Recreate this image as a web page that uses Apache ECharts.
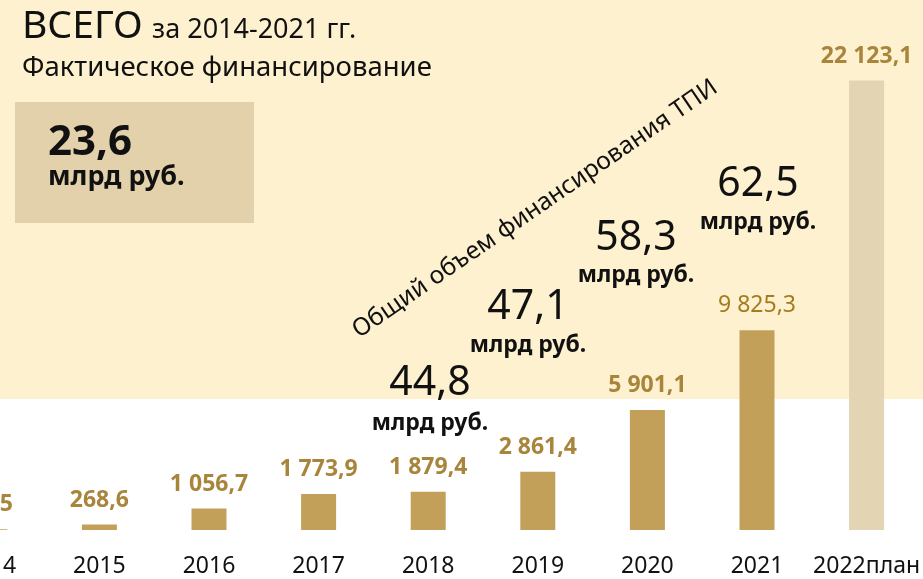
<!DOCTYPE html>
<html>
<head>
<meta charset="utf-8">
<script src="https://cdn.jsdelivr.net/npm/echarts@6/dist/echarts.min.js"></script>
<style>
  html, body { margin: 0; padding: 0; background: #fff; overflow: hidden; }
  /* первая категория (2014) срезана слева, как на слайде */
  #chart { position: absolute; left: -65px; top: 0; width: 988px; height: 579px; }
</style>
</head>
<body>
<div id="chart"></div>
<script>
// годы и фактическое финансирование, млн руб.
var years = ['2014', '2015', '2016', '2017', '2018', '2019', '2020', '2021', '2022план']
var funding = [42.5, 268.6, 1056.7, 1773.9, 1879.4, 2861.4, 5901.1, 9825.3, 22123.1]
var fundingLabels = ['42,5', '268,6', '1 056,7', '1 773,9', '1 879,4', '2 861,4', '5 901,1', '9 825,3', '22 123,1']
// общий объем финансирования ТПИ, млрд руб.
var totals = ['44,8', '47,1', '58,3', '62,5']
var totalPos = [[430, 383, 423], [528, 307, 345], [636, 238, 275], [758, 184, 222]]

var gold = '#c3a05a'
var planColor = '#e3d4b3'
var labelGold = '#a8853b'
var font = 'Noto Sans'
var dx = 65 // сдвиг холста влево

var chart = echarts.init(document.getElementById('chart'))

var barData = funding.map(function (v, i) {
  var isPlan = i === funding.length - 1
  var item = {
    value: v,
    itemStyle: { color: isPlan ? planColor : gold },
    label: {
      show: true,
      position: 'top',
      distance: 13,
      formatter: fundingLabels[i],
      fontFamily: font,
      fontSize: 23,
      fontWeight: 'bold',
      color: labelGold
    }
  }
  if (i === 7) {
    item.label.fontWeight = 'normal'
    item.label.color = '#a57b20'
  }
  return item
})

var graphics = [
  {
    type: 'rect',
    z: -100,
    silent: true,
    shape: { x: 0, y: 0, width: 988, height: 399 },
    style: { fill: '#fef1cf' }
  },
  {
    type: 'rect',
    z: -90,
    silent: true,
    shape: { x: dx + 15, y: 102, width: 239, height: 121 },
    style: { fill: '#e2d1aa' }
  },
  {
    type: 'text', left: dx + 22, top: 7,
    style: { text: 'ВСЕГО', font: '39px "Noto Sans"', fill: '#111' }
  },
  {
    type: 'text', left: dx + 152, top: 17,
    style: { text: 'за 2014-2021 гг.', font: '27px "Noto Sans"', fill: '#111' }
  },
  {
    type: 'text', left: dx + 22, top: 54,
    style: { text: 'Фактическое финансирование', font: '27.5px "Noto Sans"', fill: '#111' }
  },
  {
    type: 'text', left: dx + 48, top: 122,
    style: { text: '23,6', font: 'bold 42px "Noto Sans"', fill: '#111' }
  },
  {
    type: 'text', left: dx + 48, top: 164,
    style: { text: 'млрд руб.', font: 'bold 27px "Noto Sans"', fill: '#111' }
  },
  {
    type: 'text',
    x: dx + 535, y: 209,
    rotation: 34.5 * Math.PI / 180,
    style: {
      text: 'Общий объем финансирования ТПИ',
      font: '24.5px "Noto Sans"',
      fill: '#111',
      align: 'center',
      verticalAlign: 'middle'
    }
  }
]

totals.forEach(function (t, i) {
  var p = totalPos[i]
  graphics.push({
    type: 'text', x: dx + p[0], y: p[1],
    style: { text: t, font: '41px "Noto Sans"', fill: '#111', align: 'center', verticalAlign: 'middle' }
  })
  graphics.push({
    type: 'text', x: dx + p[0], y: p[2],
    style: { text: 'млрд руб.', font: 'bold 23px "Noto Sans"', fill: '#111', align: 'center', verticalAlign: 'middle' }
  })
})

var option = {
  backgroundColor: '#ffffff',
  animation: false,
  grid: {
    left: 0,
    right: 0,
    top: 22,
    bottom: 49
  },
  xAxis: {
    type: 'category',
    data: years,
    axisLine: { show: false },
    axisTick: { show: false },
    axisLabel: {
      interval: 0,
      fontFamily: font,
      fontSize: 23,
      color: '#111',
      margin: 25
    }
  },
  yAxis: {
    type: 'value',
    min: 0,
    max: 25000,
    show: false,
    splitLine: { show: false }
  },
  graphic: graphics,
  series: [
    {
      type: 'bar',
      barWidth: 35,
      data: barData
    }
  ]
}

chart.setOption(option)
</script>
</body>
</html>
